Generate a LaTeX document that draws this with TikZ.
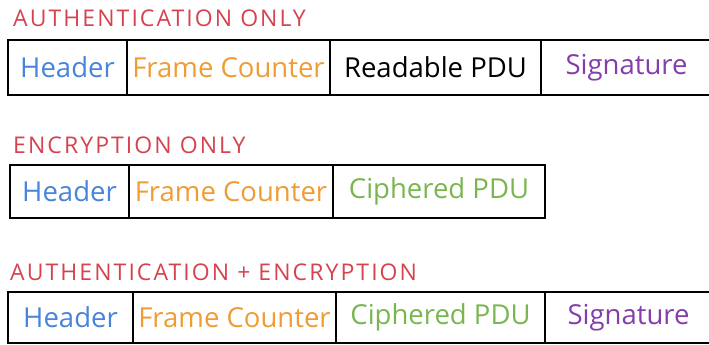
\documentclass[tikz,border=0pt]{standalone}
\usepackage{fontspec}
\setmainfont{Open Sans}
\definecolor{tred}{RGB}{214,66,78}
\definecolor{tblue}{RGB}{72,132,218}
\definecolor{torange}{RGB}{240,156,52}
\definecolor{tgreen}{RGB}{122,182,80}
\definecolor{tpurple}{RGB}{132,62,172}
\begin{document}
\begin{tikzpicture}[x=1pt,y=1pt,
  cell/.style={draw=black, line width=2.8pt, rectangle, inner sep=0pt, font=\fontsize{27.5}{30}\selectfont},
  title/.style={anchor=base west, inner sep=0pt, text=tred, font=\fontsize{23}{26}\selectfont\addfontfeatures{LetterSpace=9}}]
\useasboundingbox (0,0) rectangle (709,345);
% Row 1
\node[title] (t1) at (13,318) {AUTHENTICATION ONLY};
\node[cell, minimum width=119, minimum height=55, text=tblue] (a1) at (67.5,277.5) {Header};
\node[cell, minimum width=203, minimum height=55, text=torange] (a2) at (228.5,277.5) {Frame Counter};
\node[cell, minimum width=211, minimum height=55, text=black] (a3) at (435.5,277.5) {Readable PDU};
\node[cell, minimum width=171, minimum height=55, text=tpurple] (a4) at (626.5,277.5) {Signature};
% Row 2
\node[title] (t2) at (13,191) {ENCRYPTION ONLY};
\node[cell, minimum width=119, minimum height=53, text=tblue] (b1) at (69.5,153.5) {Header};
\node[cell, minimum width=204, minimum height=53, text=torange] (b2) at (231,153.5) {Frame Counter};
\node[cell, minimum width=212, minimum height=53, text=tgreen] (b3) at (439,153.5) {Ciphered PDU};
% Row 3
\node[title] (t3) at (10,64) {AUTHENTICATION + ENCRYPTION};
\node[cell, minimum width=125, minimum height=51, text=tblue] (c1) at (70.5,27.5) {Header};
\node[cell, minimum width=203, minimum height=51, text=torange] (c2) at (234.5,27.5) {Frame Counter};
\node[cell, minimum width=209, minimum height=51, text=tgreen] (c3) at (440.5,27.5) {Ciphered PDU};
\node[cell, minimum width=167, minimum height=51, text=tpurple] (c4) at (628.5,27.5) {Signature};
\end{tikzpicture}
\end{document}
